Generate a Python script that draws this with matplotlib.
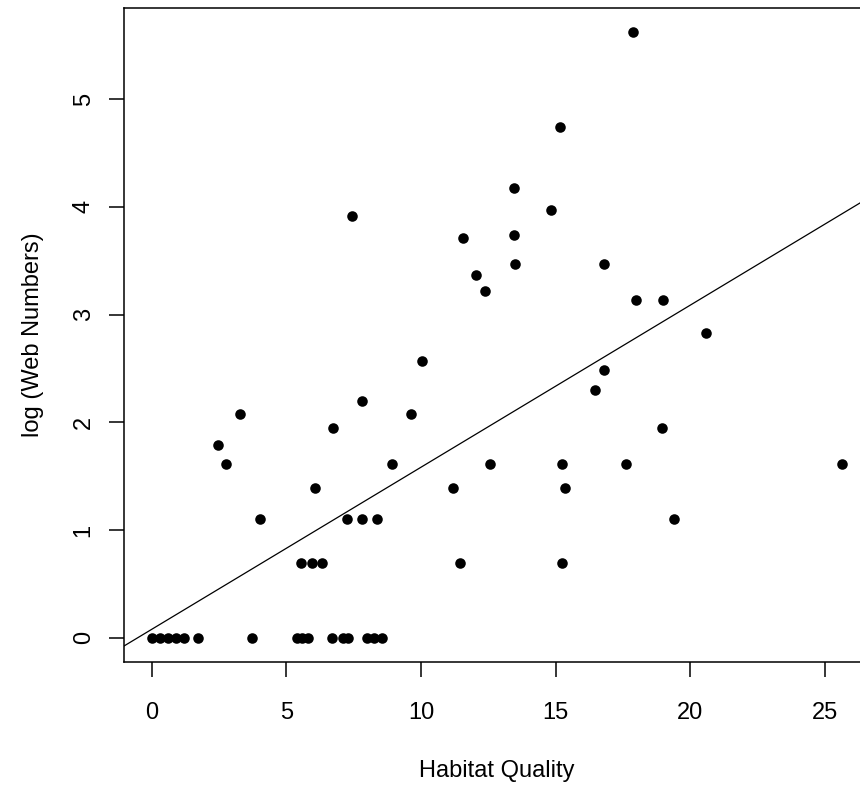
import numpy as np
import matplotlib
matplotlib.use("Agg")
from matplotlib import pyplot as plt

plt.rcParams['font.family'] = ['Liberation Sans', 'DejaVu Sans']

# habitat quality (x) and log web numbers (y)
habitat = [0.0, 0.3, 0.6, 0.9, 1.2, 1.71, 3.74, 5.38, 5.59, 5.81, 6.68, 7.12, 7.30, 7.98, 8.26, 8.54,
           5.54, 5.97, 6.33, 11.44, 15.22,
           4.02, 7.26, 7.80, 8.38, 19.40,
           6.08, 11.19, 15.33,
           2.77, 8.91, 12.55, 15.22, 17.62, 25.64,
           2.48, 6.74, 18.93, 3.27, 9.62, 7.80,
           16.80, 16.44, 10.05, 20.58, 17.98, 18.98,
           12.39, 12.04, 13.49, 16.80, 11.56, 13.44,
           7.42, 14.84, 13.44, 15.15, 17.87]
log_webs = [0, 0, 0, 0, 0, 0, 0, 0, 0, 0, 0, 0, 0, 0, 0, 0,
            0.693, 0.693, 0.693, 0.693, 0.693,
            1.099, 1.099, 1.099, 1.099, 1.099,
            1.386, 1.386, 1.386,
            1.609, 1.609, 1.609, 1.609, 1.609, 1.609,
            1.792, 1.946, 1.946, 2.079, 2.079, 2.197,
            2.485, 2.303, 2.565, 2.833, 3.135, 3.135,
            3.219, 3.367, 3.466, 3.466, 3.714, 3.738,
            3.912, 3.970, 4.174, 4.745, 5.62]

# fitted line as drawn in the original (abline)
intercept = 0.078
slope = 0.1505

x = np.array(habitat)
y = np.array(log_webs)

fig = plt.figure(figsize=(8.6, 7.9), dpi=100)
ax = fig.add_axes([124/860, 128/790, 746/860, 654/790])

ax.plot(x, y, 'o', color='black', markersize=7.6, markeredgewidth=0)
ax.margins(x=0.04, y=0.04)
ax.axline((0, intercept), slope=slope, color='black', linewidth=0.9)

ax.set_xticks([0, 5, 10, 15, 20, 25])
ax.set_yticks([0, 1, 2, 3, 4, 5])
ax.tick_params(axis='both', length=10.6, width=1.1, labelsize=17)
ax.tick_params(axis='x', pad=18)
ax.tick_params(axis='y', pad=10.5)
plt.setp(ax.get_yticklabels(), rotation=90, va='center')
for s in ax.spines.values():
    s.set_linewidth(1.1)

ax.set_xlabel('Habitat Quality', fontsize=17, labelpad=26)
ax.set_ylabel('log (Web Numbers)', fontsize=17, labelpad=21)

fig.savefig('out.png', dpi=100)
